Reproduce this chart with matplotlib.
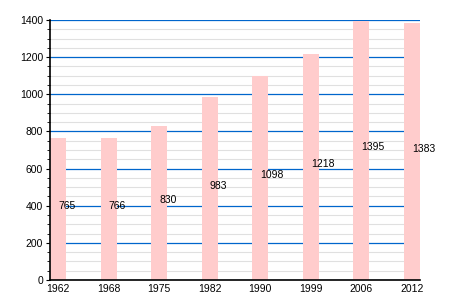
import numpy as np
import matplotlib.pyplot as plt
from matplotlib.ticker import MultipleLocator

years = ['1962', '1968', '1975', '1982', '1990', '1999', '2006', '2012']
population = [765, 766, 830, 983, 1098, 1218, 1395, 1383]

plt.rcParams['font.family'] = ['Liberation Sans', 'DejaVu Sans']

fig = plt.figure(figsize=(4.5, 3), dpi=100)
ax = fig.add_axes([50/450, 20/300, 370/450, 260/300])

x = np.arange(len(years))
w = 0.316
ax.bar(x, population, width=w, color='#ffcccc', zorder=2)
for xi, v in zip(x, population):
    ax.text(xi, v / 2, str(v), ha='left', va='baseline', fontsize=7.5, zorder=3)

ax.set_xlim(-w / 2, len(years) - 1 + w / 2)
ax.set_ylim(0, 1400)
ax.set_xticks(x)
ax.set_xticklabels(years)
ax.yaxis.set_major_locator(MultipleLocator(200))
ax.yaxis.set_minor_locator(MultipleLocator(50))

# grid: gray every 50, blue every 200
ax.grid(which='minor', axis='y', color='#e0e0e0', linewidth=0.8, zorder=0)
ax.grid(which='major', axis='y', color='#0066cc', linewidth=0.9, zorder=1)
ax.set_axisbelow(True)

for s in ['top', 'right']:
    ax.spines[s].set_visible(False)
ax.spines['left'].set_linewidth(1.2)
ax.spines['bottom'].set_linewidth(1.2)
ax.tick_params(axis='x', length=0, labelsize=7.5, pad=3)
ax.tick_params(axis='y', which='major', length=3, labelsize=7.5, pad=2)
ax.tick_params(axis='y', which='minor', length=2)

fig.savefig('out.png')
